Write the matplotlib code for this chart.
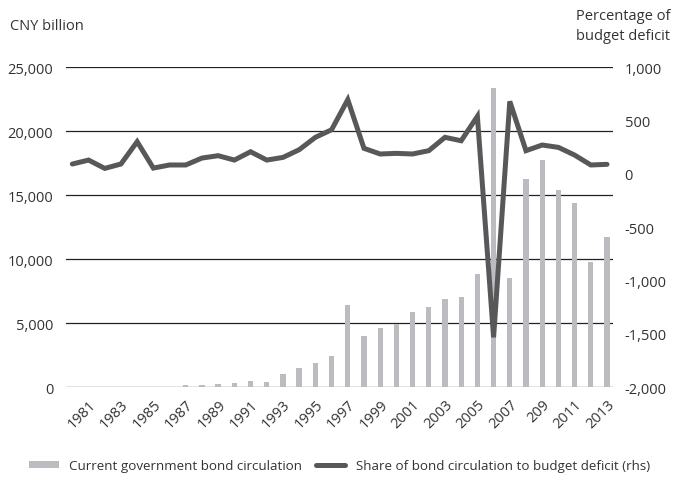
import matplotlib.pyplot as plt
import numpy as np

plt.rcParams["font.family"] = ["Open Sans", "DejaVu Sans"]

years = list(range(1980, 2014))
tick_labels = ["1981", "1983", "1985", "1987", "1989", "1991", "1993", "1995",
               "1997", "1999", "2001", "2003", "2005", "2007", "209", "2011",
               "2013"]

# CNY billion
bond_circulation = [30, 40, 40, 40, 40, 40, 50, 150, 150, 230, 310, 500,
                    420, 1020, 1490, 1880, 2400, 6400, 4000, 4630, 4900,
                    5880, 6270, 6900, 7050, 8830, 23400, 8500, 16250, 17730,
                    15400, 14400, 9800, 11700]

# percentage of budget deficit (rhs)
share_of_deficit = [91, 128, 50, 91, 300, 53, 82, 82, 147, 169, 128, 206,
                    128, 153, 225, 341, 412, 694, 238, 185, 191, 185, 216,
                    341, 309, 538, -1533, 678, 216, 269, 247, 175, 82, 88]

bar_color = "#bcbcc0"
line_color = "#58585a"
text_color = "#333333"

fig = plt.figure(figsize=(6.79, 4.81), dpi=100)
ax = fig.add_axes([0.097, 0.193, 0.8065, 0.6656])
ax2 = ax.twinx()

x = np.arange(len(years))
bars = ax.bar(x, bond_circulation, width=0.33, color=bar_color, zorder=2,
              label="Current government bond circulation")
line, = ax2.plot(x, share_of_deficit, color=line_color, lw=3.6,
                 solid_joinstyle="miter", solid_capstyle="round",
                 label="Share of bond circulation to budget deficit (rhs)")

ax.set_xlim(-0.4, len(years) - 0.6)
ax.set_ylim(0, 25000)
ax.set_yticks(np.arange(0, 25001, 5000))
ax.set_yticklabels([f"{v:,}" for v in range(0, 25001, 5000)])
ax2.set_ylim(-2000, 1000)
ax2.set_yticks(np.arange(-2000, 1001, 500))
ax2.set_yticklabels([f"{v:,}" for v in range(-2000, 1001, 500)])

for v in range(0, 25001, 5000):
    ax.axhline(v, color="#222222", lw=0.9, zorder=1)

ax.set_xticks(x[1::2])
ax.set_xticklabels(tick_labels, rotation=45, ha="right",
                   rotation_mode="anchor")

for a in (ax, ax2):
    for s in a.spines.values():
        s.set_visible(False)
    a.tick_params(length=0, colors=text_color, labelsize=10.5)
ax.tick_params(axis="y", pad=9)
ax2.tick_params(axis="y", pad=8)
ax.tick_params(axis="x", pad=7)

fig.text(0.015, 0.945, "CNY billion", color=text_color, fontsize=10.5,
         ha="left", va="center")
fig.text(0.987, 0.945, "Percentage of\nbudget deficit", color=text_color,
         fontsize=10.5, ha="right", va="center", linespacing=1.45)

fig.legend(handles=[bars, line], loc="center", bbox_to_anchor=(0.5, 0.03),
           ncol=2, frameon=False, fontsize=9.6, handlelength=2.2,
           handleheight=0.5, handletextpad=0.8, columnspacing=1.0,
           labelcolor=text_color)

fig.savefig("out.png", dpi=100)
